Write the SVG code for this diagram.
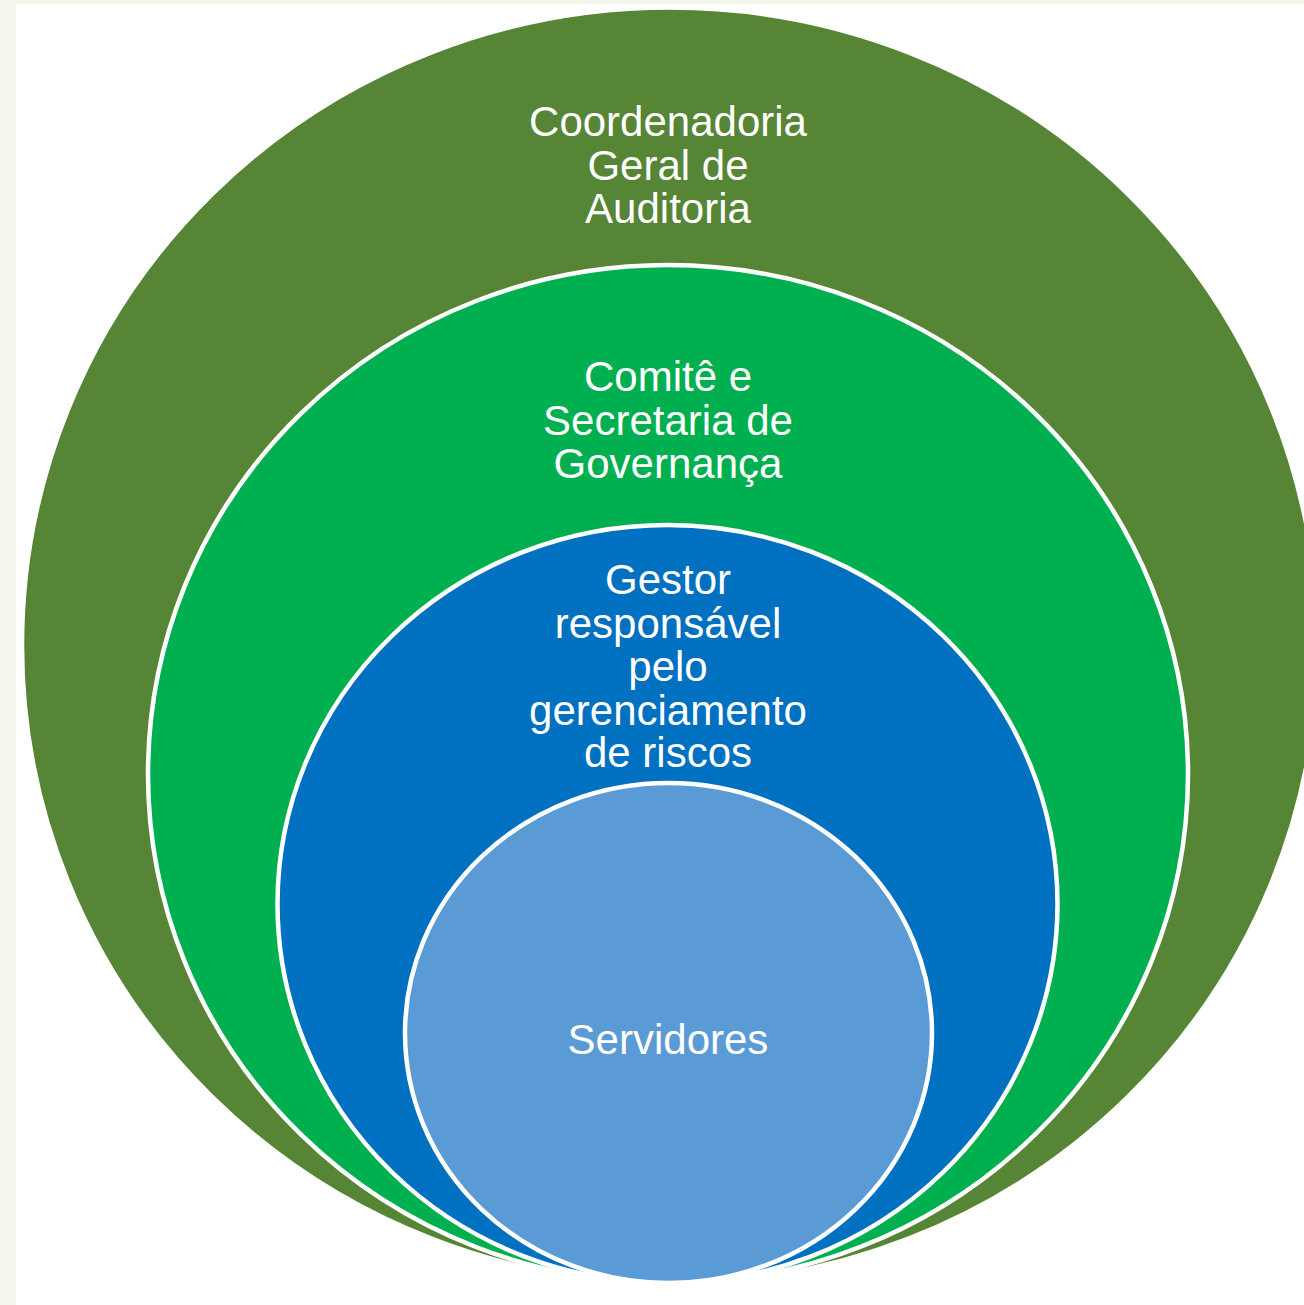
<svg xmlns="http://www.w3.org/2000/svg" width="1304" height="1305" viewBox="0 0 1304 1305">
<style>
.lbl{font-family:"Liberation Sans",Arial,sans-serif;font-size:42px;fill:#ffffff;text-anchor:middle}
.ring{stroke:#ffffff;stroke-width:4.5}
</style>
<rect x="0" y="0" width="1304" height="1305" fill="#f3f6ea"/>
<rect x="16" y="4" width="1288" height="1301" fill="#ffffff"/>
<g id="node-coordenadoria">
<ellipse class="ring" cx="670" cy="645.5" rx="648" ry="638" fill="#568536"/>
<text class="lbl" x="668"><tspan x="668" y="136">Coordenadoria</tspan><tspan x="668" y="180">Geral de</tspan><tspan x="668" y="223">Auditoria</tspan></text>
</g>
<g id="node-comite">
<ellipse class="ring" cx="668" cy="774" rx="520" ry="509" fill="#00b050"/>
<text class="lbl"><tspan x="668" y="391">Comitê e</tspan><tspan x="668" y="435">Secretaria de</tspan><tspan x="668" y="478">Governança</tspan></text>
</g>
<g id="node-gestor">
<ellipse class="ring" cx="667.5" cy="904" rx="390" ry="379" fill="#0070c0"/>
<text class="lbl"><tspan x="668" y="594">Gestor</tspan><tspan x="668" y="638">responsável</tspan><tspan x="668" y="681">pelo</tspan><tspan x="668" y="725">gerenciamento</tspan><tspan x="668" y="767">de riscos</tspan></text>
</g>
<g id="node-servidores">
<ellipse class="ring" cx="668.5" cy="1033" rx="263.5" ry="250" fill="#5b9bd5"/>
<text class="lbl" x="668" y="1054">Servidores</text>
</g>
<g id="connectors"/>
</svg>
